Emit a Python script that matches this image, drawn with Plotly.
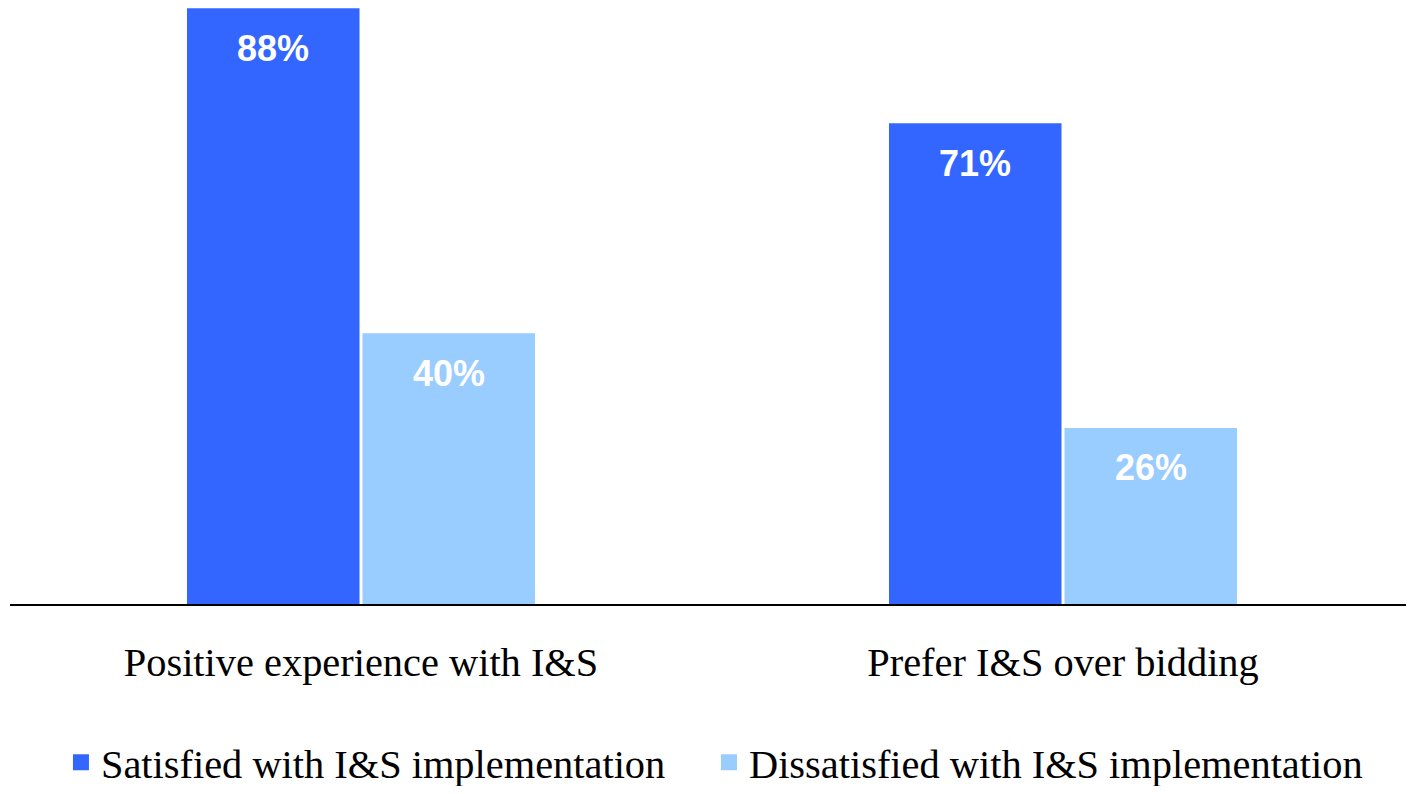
import plotly.graph_objects as go

categories = ["Positive experience with I&S", "Prefer I&S over bidding"]
satisfied = [88, 71]
dissatisfied = [40, 26]
series_names = ["Satisfied with I&S implementation", "Dissatisfied with I&S implementation"]
colors = ["#3366FF", "#99CCFF"]

serif = "Palatino Linotype, Book Antiqua, Palatino, Liberation Serif, serif"
sans = "Arial, Liberation Sans, sans-serif"

fig = go.Figure()
for name, vals, col in zip(series_names, [satisfied, dissatisfied], colors):
    fig.add_trace(go.Bar(
        x=categories, y=vals, name=name,
        marker=dict(color=col, line=dict(width=0)),
        textposition="none",
        hoverinfo="skip",
        showlegend=False,
    ))

# legend entries (square swatches), one legend box per series
legend_ids = ["legend", "legend2"]
for name, col, lid in zip(series_names, colors, legend_ids):
    fig.add_trace(go.Scatter(
        x=[None], y=[None], mode="markers", name=name,
        marker=dict(symbol="square", size=16, color=col, line=dict(width=0)),
        showlegend=True, hoverinfo="skip", legend=lid,
    ))

# value labels near the top of each bar
for i, vals in enumerate([satisfied, dissatisfied]):
    for j, v in enumerate(vals):
        fig.add_annotation(
            x=categories[j], y=v, text=f"<b>{v}%</b>",
            xref="x", yref="y", showarrow=False,
            xshift=(-1 if i == 0 else 1) * 88,
            yanchor="middle", yshift=-40,
            font=dict(family=sans, size=36, color="white"),
        )

legend_common = dict(
    orientation="h", xanchor="left",
    yref="container", y=0.0302, yanchor="middle",
    font=dict(family=serif, size=40.4, color="black"),
    itemwidth=30, itemsizing="trace", bgcolor="rgba(0,0,0,0)",
)

fig.update_layout(
    width=1398, height=778,
    margin=dict(l=2, r=0, t=0, b=182, autoexpand=False),
    paper_bgcolor="white", plot_bgcolor="white",
    barmode="group", bargap=0.5, bargroupgap=0.017,
    showlegend=True,
    legend=dict(x=0.0365, **legend_common),
    legend2=dict(x=0.5007, **legend_common),
    xaxis=dict(
        range=[-0.5, 1.4886],
        showline=True, linecolor="black", linewidth=2,
        ticks="", showgrid=False, zeroline=False,
        tickfont=dict(family=serif, size=40.4, color="black"),
        ticklabelstandoff=22,
    ),
    yaxis=dict(
        range=[0, 88.03], visible=False, showgrid=False, zeroline=False,
    ),
)

fig.write_html("out.html")
